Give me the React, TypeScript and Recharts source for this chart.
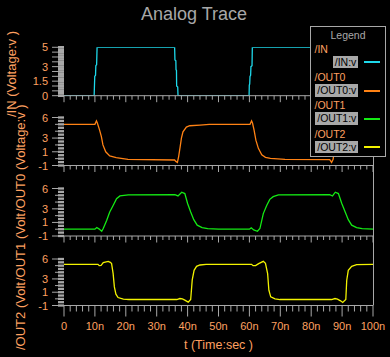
import React from 'react';
import { LineChart, Line, XAxis, YAxis } from 'recharts';

const GRAY = '#a8a8a8';
const TEXT_ORANGE = '#ffa060';
const FONT = '"Liberation Sans", Arial, sans-serif';

// time in ns, values in volts
const IN_T = [0, 9.75, 9.95, 10.2, 10.3, 10.55, 10.7, 35.8, 35.9, 36.2, 36.25, 36.4, 36.45, 36.8, 36.9, 59.9, 59.97, 60.1, 60.2, 60.4, 60.5, 60.85, 60.95, 85.8, 85.9, 86.2, 86.25, 86.4, 86.45, 86.8, 86.9, 100];
const IN_V = [0, 0, 2.0, 2.1, 3.1, 3.2, 5, 5, 3.7, 3.6, 2.7, 2.6, 1.0, 0.9, 0, 0, 1.1, 1.2, 2.0, 2.1, 3.0, 3.1, 5, 5, 3.7, 3.6, 2.7, 2.6, 1.0, 0.9, 0, 0];

const OUT0_T = [0, 10, 10.3, 10.5, 10.8, 11.5, 12.1, 12.6, 13.5, 14.8, 16.9, 20.7, 35.8, 36.2, 36.7, 37.1, 37.6, 38, 38.5, 39.6, 40.7, 44, 47, 60.2, 60.5, 60.7, 61, 61.5, 62.1, 62.9, 64, 65.2, 66.8, 71.5, 86, 86.6, 87.1, 87.6, 88, 88.5, 89.6, 90.7, 94, 97, 100];
const OUT0_V = [5, 5, 5.3, 5.5, 5.2, 4.2, 3.2, 2.0, 1.0, 0.4, 0.15, -0.1, -0.2, -0.4, -0.55, 0.3, 1.75, 3.0, 3.9, 4.6, 4.8, 4.9, 5.0, 5.0, 5.3, 5.5, 5.2, 4.2, 2.7, 1.5, 0.55, 0.2, 0.05, -0.1, -0.15, -0.55, -0.1, 1.75, 3.0, 3.9, 4.6, 4.8, 4.9, 5.0, 5.0];

const OUT1_T = [0, 10, 10.6, 11.3, 12.2, 12.7, 13.8, 14.8, 15.9, 17, 18.1, 20.8, 35.9, 36.9, 38.1, 39.1, 40, 41, 42, 43.1, 44.7, 46.5, 50, 60, 60.6, 61.4, 62.6, 63.4, 64.5, 65.6, 66.6, 67.7, 69.4, 86, 86.9, 87.8, 88.8, 89.9, 91, 92, 93.1, 94.7, 96.5, 100];
const OUT1_V = [0, 0, 0.25, 0.05, -0.3, 0.1, 1.3, 2.55, 3.5, 4.5, 4.9, 5.05, 5.1, 4.9, 5.45, 5.25, 3.8, 2.55, 1.4, 0.6, 0.25, 0.08, 0, 0, 0.2, -0.1, -0.3, 0.1, 2.3, 3.5, 4.4, 4.8, 5.05, 5.1, 4.9, 5.45, 5.25, 3.8, 2.55, 1.4, 0.6, 0.25, 0.08, 0];

const OUT2_T = [0, 11, 11.4, 12, 12.7, 14.3, 15, 15.4, 15.9, 16.3, 16.8, 17.5, 19.2, 21, 36.5, 37.5, 38.3, 39.1, 40.2, 41, 41.5, 42.1, 42.9, 44, 46, 60.7, 61.2, 62, 63, 64.5, 65.2, 65.9, 66.3, 66.9, 68.3, 69.9, 86.6, 87.7, 88.5, 89.5, 90.2, 91.2, 91.5, 92, 93.1, 94.7, 100];
const OUT2_V = [5.2, 5.2, 5.0, 5.05, 5.45, 5.65, 5.5, 5.3, 3.8, 1.8, 0.7, 0.2, -0.05, -0.1, -0.1, 0.05, 0, -0.2, -0.5, -0.1, 2.85, 4.3, 4.9, 5.1, 5.2, 5.2, 5.0, 5.0, 5.3, 5.65, 5.35, 3.8, 1.3, 0.3, 0, -0.1, -0.1, 0.05, -0.05, -0.3, -0.55, -0.1, 2.8, 4.3, 4.9, 5.15, 5.2];

const SERIES_NAMES = ['/IN', '/OUT0', '/OUT1', '/OUT2'];
const SERIES_COLORS = ['#1ed8ea', '#ff8214', '#14ea14', '#f2f200'];
const Y_TITLES = ['/IN (Voltage:v )', '/OUT0 (Voltage:v )', '/OUT1 (Volt', '/OUT2 (Volt'];

const TIME_MAJOR = [0, 10, 20, 30, 40, 50, 60, 70, 80, 90, 100];
const TIME_LABELS = ['0', '10n', '20n', '30n', '40n', '50n', '60n', '70n', '80n', '90n', '100n'];
const TIME_TICKS = Array.from({ length: 51 }, (_, i) => i * 2);

const IN_AXIS_TICKS = [0, 0.25, 0.5, 0.75, 1, 1.25, 1.5, 1.75, 2, 2.25, 2.5, 2.75, 3, 3.25, 3.5, 3.75, 4, 4.25, 4.5, 4.75, 5];
const IN_AXIS_LABELS = [5, 3, 1.5, 0];
const OUT_AXIS_TICKS = [-1, -0.5, 0, 0.5, 1, 1.5, 2, 2.5, 3, 3.5, 4, 4.5, 5, 5.5, 6];
const OUT_AXIS_LABELS = [6, 3, 1, -1];

// strip layout (plot top / plot height in page pixels)
const STRIPS = [
  { t: IN_T, v: IN_V, top: 47.3, h: 48.4, domain: [0, 5], ticks: IN_AXIS_TICKS, labels: IN_AXIS_LABELS, dense: true },
  { t: OUT0_T, v: OUT0_V, top: 117.5, h: 48, domain: [-1, 6], ticks: OUT_AXIS_TICKS, labels: OUT_AXIS_LABELS, dense: false },
  { t: OUT1_T, v: OUT1_V, top: 188.5, h: 47.5, domain: [-1, 6], ticks: OUT_AXIS_TICKS, labels: OUT_AXIS_LABELS, dense: false },
  { t: OUT2_T, v: OUT2_V, top: 259, h: 46.5, domain: [-1, 6], ticks: OUT_AXIS_TICKS, labels: OUT_AXIS_LABELS, dense: false },
];

function TimeTick(props: any) {
  const { x, y, payload, bottom } = props;
  const v = payload.value;
  const mi = TIME_MAJOR.indexOf(v);
  const major = mi >= 0;
  const len = bottom ? (major ? 11 : 6) : (major ? 6.5 : 4);
  return (
    <g>
      <line x1={x} x2={x} y1={y} y2={y + len} stroke={GRAY} strokeWidth={1} />
      {bottom && major && (
        <text x={x} y={y + 24.5} textAnchor="middle" fill={TEXT_ORANGE} fontSize={11} fontFamily={FONT}>
          {TIME_LABELS[mi]}
        </text>
      )}
    </g>
  );
}

function VoltTick(props: any) {
  const { x, y, payload, labels, dense } = props;
  const v = payload.value;
  const hasLabel = labels.includes(v);
  const outer = dense ? Number.isInteger(v * 2) : Number.isInteger(v);
  const len = dense || hasLabel ? 6 : 3;
  return (
    <g>
      <line x1={x - 6} x2={x} y1={y} y2={y} stroke={GRAY} strokeWidth={dense ? 2.6 : 2.3} />
      {outer && <line x1={x - 6 - len} x2={x - 6} y1={y} y2={y} stroke={GRAY} strokeWidth={1} />}
      {hasLabel && (
        <text x={x - 16} y={y + 4} textAnchor="end" fill={TEXT_ORANGE} fontSize={11} fontFamily={FONT}>
          {v}
        </text>
      )}
    </g>
  );
}

function Strip({ strip, idx, last }: any) {
  const data = strip.t.map((t: number, i: number) => ({ t, v: strip.v[i] }));
  const xh = last ? 48 : 14;
  return (
    <div style={{ position: 'absolute', left: 0, top: 0 }}>
      <LineChart width={390} height={strip.top + strip.h + xh} data={data} margin={{ top: strip.top, right: 17, bottom: 0, left: 0 }}>
        <XAxis
          type="number"
          dataKey="t"
          domain={[0, 100]}
          ticks={TIME_TICKS}
          interval={0}
          height={xh}
          tickSize={0}
          tickMargin={0}
          tickLine={false}
          axisLine={{ stroke: GRAY }}
          tick={(p: any) => <TimeTick {...p} bottom={last} />}
          label={last ? { value: 't (Time:sec )', position: 'insideBottom', offset: 4.5, fill: TEXT_ORANGE, fontSize: 12.5, fontFamily: FONT } : undefined}
        />
        <YAxis
          type="number"
          domain={strip.domain}
          ticks={strip.ticks}
          interval={0}
          width={64}
          tickSize={0}
          tickMargin={0}
          tickLine={false}
          axisLine={false}
          allowDataOverflow
          tick={(p: any) => <VoltTick {...p} labels={strip.labels} dense={strip.dense} />}
        />
        <Line type="linear" dataKey="v" stroke={SERIES_COLORS[idx]} strokeWidth={1.3} dot={false} activeDot={false} isAnimationActive={false} />
      </LineChart>
    </div>
  );
}

function TraceLegend() {
  return (
    <div style={{ position: 'absolute', left: 310, top: 26, width: 76, height: 131, border: `1px solid ${GRAY}`, boxSizing: 'border-box', background: '#000', fontFamily: FONT, fontSize: 10.5 }}>
      <div style={{ position: 'absolute', top: 1.7, left: 0, width: '100%', textAlign: 'center', color: GRAY, lineHeight: '12px' }}>Legend</div>
      {SERIES_NAMES.map((name, i) => (
        <React.Fragment key={name}>
          <div style={{ position: 'absolute', left: 3.5, top: 15.7 + 28.3 * i, color: TEXT_ORANGE, lineHeight: '12px', whiteSpace: 'nowrap' }}>{name}</div>
          <div style={{ position: 'absolute', right: 26.7, top: 28.7 + 28.3 * i, height: 12.6, lineHeight: '12.6px', background: GRAY, color: '#000', padding: '0 2px', whiteSpace: 'nowrap' }}>{name}:v</div>
          <svg width={16} height={4} style={{ position: 'absolute', left: 53, top: Math.round(33.3 + 28.3 * i) }}>
            <line x1={0} x2={16} y1={2} y2={2} stroke={SERIES_COLORS[i]} strokeWidth={2} />
          </svg>
        </React.Fragment>
      ))}
    </div>
  );
}

export default function App() {
  return (
    <div style={{ position: 'absolute', left: 0, top: 0, width: 390, height: 357, background: '#000', overflow: 'hidden' }}>
      <svg width={390} height={357} style={{ position: 'absolute', left: 0, top: 0 }}>
        <text x={194} y={20} textAnchor="middle" fill={GRAY} fontSize={18} fontFamily={FONT}>Analog Trace</text>
        <text transform="translate(15.5,117) rotate(-90)" fill={TEXT_ORANGE} fontSize={13} fontFamily={FONT}>{Y_TITLES[0]}</text>
        <text transform="translate(25,212) rotate(-90)" fill={TEXT_ORANGE} fontSize={13} fontFamily={FONT}>{Y_TITLES[1]}</text>
        <text transform="translate(25,281) rotate(-90)" fill={TEXT_ORANGE} fontSize={13} fontFamily={FONT}>{Y_TITLES[2]}</text>
        <text transform="translate(25,350) rotate(-90)" fill={TEXT_ORANGE} fontSize={13} fontFamily={FONT}>{Y_TITLES[3]}</text>
        <line x1={373.5} x2={373.5} y1={47} y2={305.5} stroke={GRAY} />
      </svg>
      {STRIPS.map((s, i) => (
        <Strip key={i} strip={s} idx={i} last={i === STRIPS.length - 1} />
      ))}
      <TraceLegend />
    </div>
  );
}
